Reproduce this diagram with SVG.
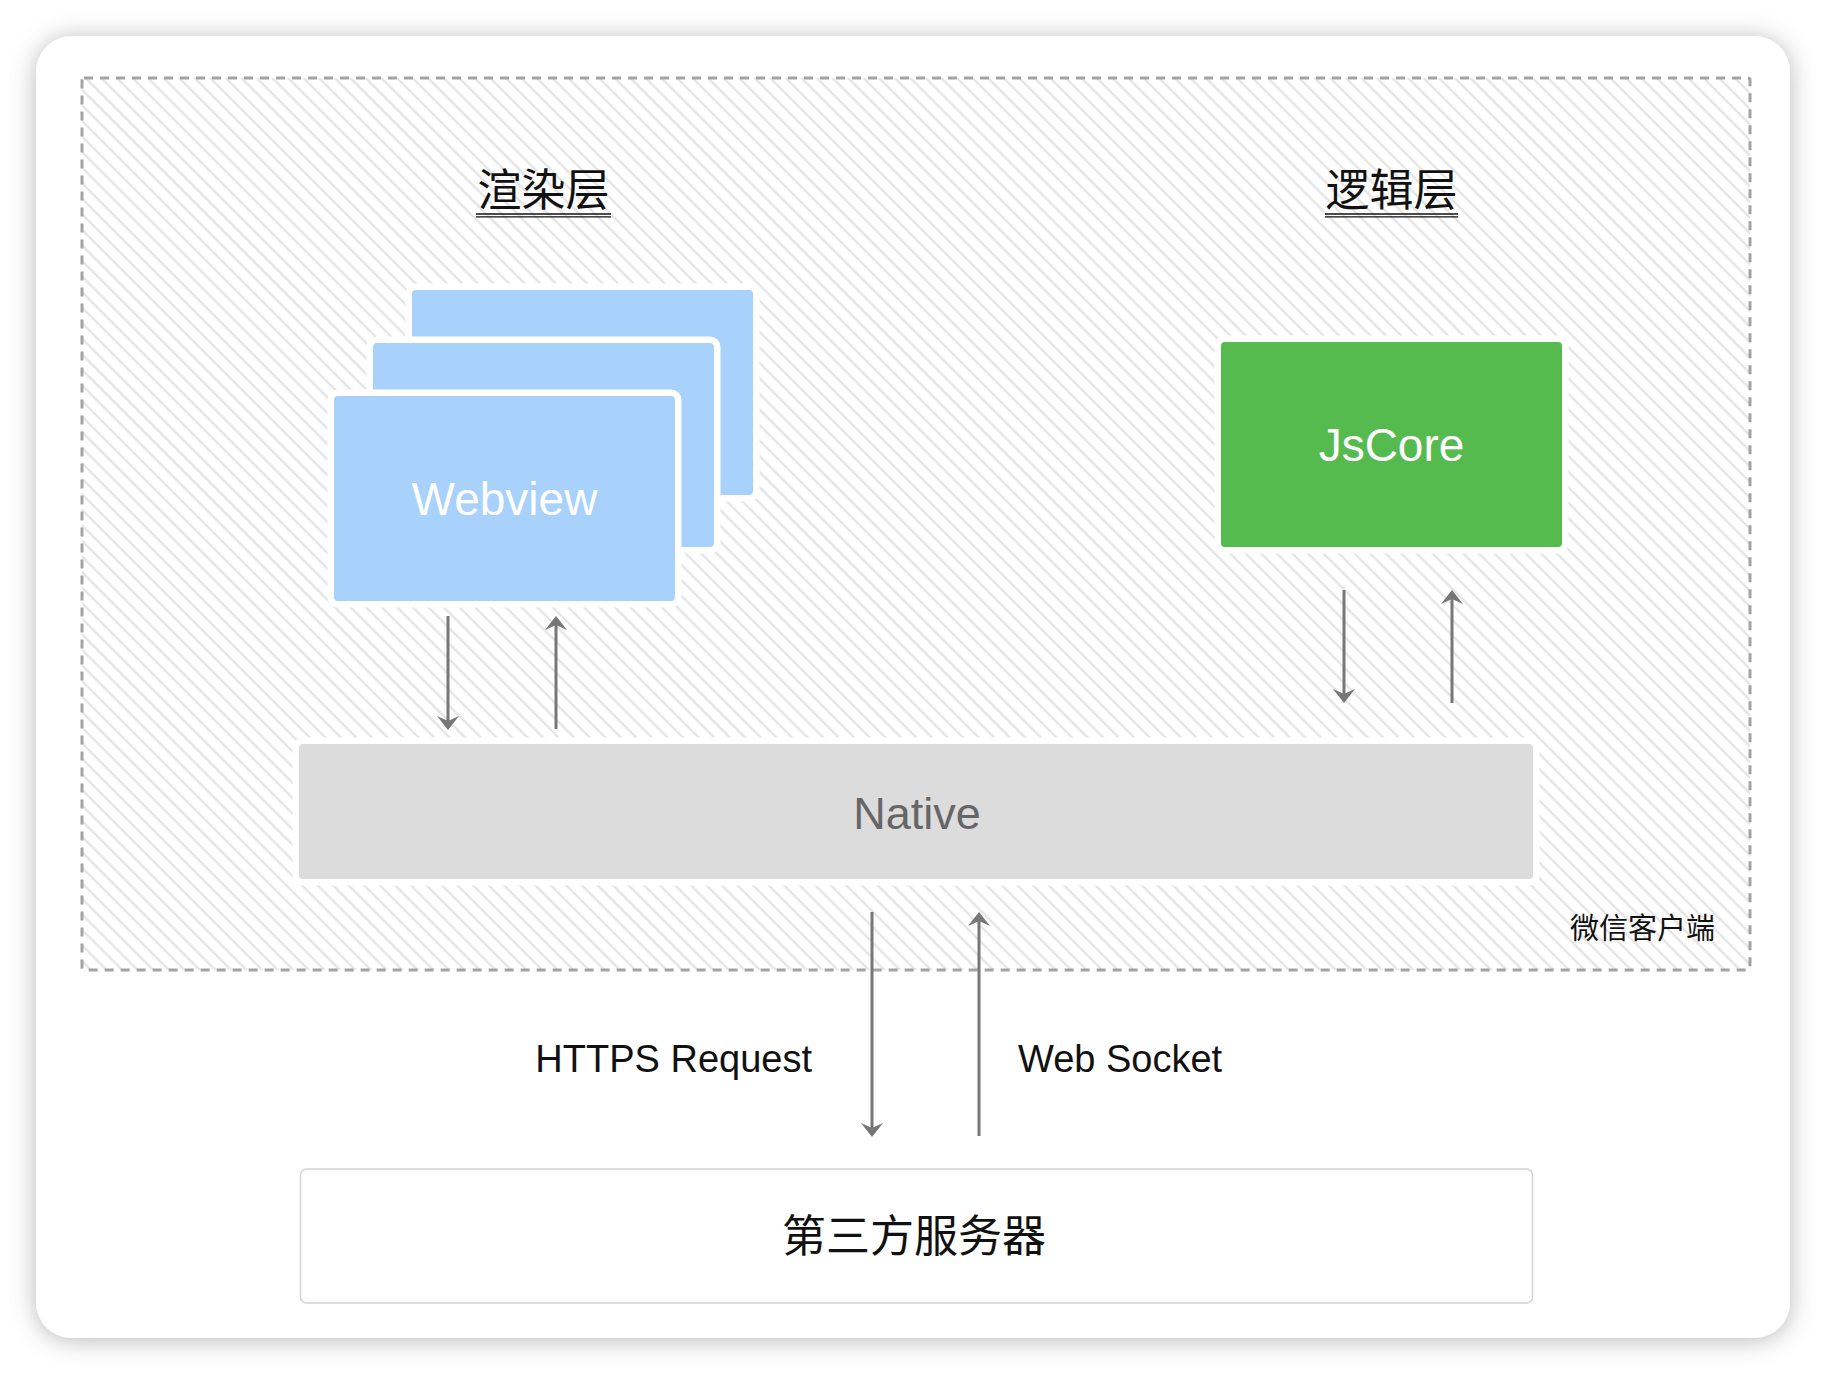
<svg xmlns="http://www.w3.org/2000/svg" width="1826" height="1374" viewBox="0 0 1826 1374">
  <style>
    .node { stroke: #ffffff; stroke-width: 13; paint-order: stroke; }
    .web { fill: #a8d1fc; }
    .label { font-family: "Liberation Sans", "Noto Sans", sans-serif; }
    .cjk { font-family: "Noto Sans CJK SC", "Noto Sans", sans-serif; fill: #111111; }
    .conn { stroke: #777777; stroke-width: 3; fill: none; marker-end: url(#arr); }
    .ul { stroke: #111111; stroke-width: 1.3; }
  </style>
  <defs>
    <filter id="sh" x="-5%" y="-6%" width="110%" height="112%">
      <feDropShadow dx="0" dy="2" stdDeviation="12" flood-color="#000000" flood-opacity="0.28"/>
    </filter>
    <pattern id="hatch" patternUnits="userSpaceOnUse" width="11" height="11" patternTransform="rotate(-45)">
      <rect width="11" height="11" fill="#ffffff"/>
      <line x1="5.5" y1="0" x2="5.5" y2="11" stroke="#e0e0e0" stroke-width="2"/>
    </pattern>
    <marker id="arr" markerUnits="userSpaceOnUse" markerWidth="30" markerHeight="30" refX="0" refY="0" orient="auto" overflow="visible">
      <path d="M7,0 L-7,-11 L-2,0 L-7,11 Z" fill="#777777"/>
    </marker>
  </defs>

  <rect width="1826" height="1374" fill="#ffffff"/>

  <g id="card">
    <rect x="36" y="36" width="1754" height="1302" rx="36" fill="#ffffff" filter="url(#sh)"/>
  </g>

  <g id="client">
    <rect x="82" y="78" width="1668" height="892" rx="2" fill="url(#hatch)" stroke="#a3a3a3" stroke-width="3" stroke-dasharray="9 7"/>
    <text x="1715" y="939" text-anchor="end" class="cjk" font-size="29">微信客户端</text>
  </g>

  <g id="render-title">
    <text x="543.5" y="206" text-anchor="middle" class="cjk" font-size="44">渲染层</text>
    <line class="ul" x1="476" y1="214" x2="611" y2="214"/>
    <line class="ul" x1="476" y1="216.8" x2="611" y2="216.8"/>
  </g>

  <g id="logic-title">
    <text x="1391.5" y="206" text-anchor="middle" class="cjk" font-size="44">逻辑层</text>
    <line class="ul" x1="1325" y1="214" x2="1458" y2="214"/>
    <line class="ul" x1="1325" y1="216.8" x2="1458" y2="216.8"/>
  </g>

  <g id="webview">
    <rect class="node web" x="412" y="290" width="341" height="205" rx="4"/>
    <rect class="node web" x="373" y="343" width="341" height="204" rx="4"/>
    <rect class="node web" x="334" y="396" width="341" height="205" rx="4"/>
    <text x="504.5" y="515" text-anchor="middle" class="label" font-size="46" fill="#ffffff">Webview</text>
  </g>

  <g id="jscore">
    <rect class="node" x="1221" y="342" width="341" height="205" rx="4" fill="#55bb4f"/>
    <text x="1391.5" y="461" text-anchor="middle" class="label" font-size="46" fill="#ffffff">JsCore</text>
  </g>

  <g id="native">
    <rect class="node" x="299" y="744" width="1234" height="135" rx="4" fill="#dcdcdc"/>
    <text x="917" y="829" text-anchor="middle" class="label" font-size="45" fill="#666666">Native</text>
  </g>

  <g id="server">
    <rect x="300.5" y="1169" width="1232" height="134" rx="6" fill="#ffffff" stroke="#d4d4d4" stroke-width="1.5"/>
    <text x="914" y="1252" text-anchor="middle" class="cjk" font-size="44">第三方服务器</text>
  </g>

  <g id="connectors">
    <path class="conn" d="M448,616 V723"/>
    <path class="conn" d="M556,729 V623"/>
    <path class="conn" d="M1344,590 V696"/>
    <path class="conn" d="M1452,703 V597"/>
    <path class="conn" d="M872,912 V1130"/>
    <path class="conn" d="M979,1136 V919"/>
    <text x="812" y="1072" text-anchor="end" class="label" font-size="38" fill="#111111">HTTPS Request</text>
    <text x="1018" y="1072" class="label" font-size="38" fill="#111111">Web Socket</text>
  </g>
</svg>
